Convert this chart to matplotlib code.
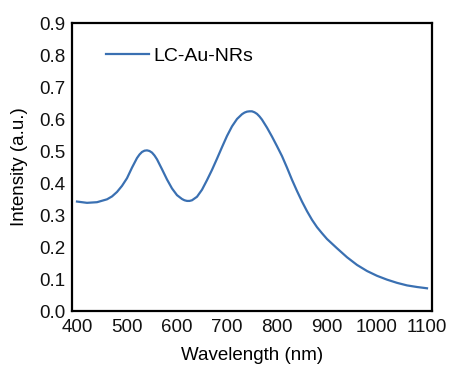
import matplotlib
matplotlib.use("Agg")
import matplotlib.pyplot as plt

plt.rcParams['font.family'] = ['Liberation Sans', 'DejaVu Sans']

wavelength = [400, 420, 440, 460, 470, 480, 490, 500, 510, 520, 525, 530, 535, 540, 545,
              550, 555, 560, 570, 580, 590, 600, 610, 615, 620, 625, 630, 640, 650, 660,
              670, 680, 690, 700, 710, 720, 730, 735, 740, 745, 750, 755, 760, 765, 770,
              780, 790, 800, 810, 820, 830, 840, 850, 860, 870, 880, 890, 900, 920, 940,
              960, 980, 1000, 1020, 1040, 1060, 1080, 1100]
intensity = [0.342, 0.338, 0.340, 0.349, 0.358, 0.372, 0.391, 0.415, 0.448, 0.478, 0.489,
             0.497, 0.501, 0.502, 0.500, 0.495, 0.486, 0.474, 0.443, 0.411, 0.383, 0.362,
             0.350, 0.346, 0.344, 0.344, 0.346, 0.357, 0.379, 0.409, 0.441, 0.476, 0.512,
             0.547, 0.577, 0.600, 0.615, 0.620, 0.623, 0.624, 0.624, 0.621, 0.616, 0.608,
             0.598, 0.573, 0.545, 0.515, 0.484, 0.448, 0.410, 0.375, 0.342, 0.312, 0.285,
             0.262, 0.243, 0.225, 0.196, 0.168, 0.144, 0.125, 0.110, 0.098, 0.088, 0.080,
             0.075, 0.071]
series_label = "LC-Au-NRs"
xticks = [400, 500, 600, 700, 800, 900, 1000, 1100]
yticks = [0.0, 0.1, 0.2, 0.3, 0.4, 0.5, 0.6, 0.7, 0.8, 0.9]

fig = plt.figure(figsize=(4.56, 3.79), dpi=100)
ax = fig.add_axes([72/456, 68/379, 360/456, 288/379])
ax.plot(wavelength, intensity, color='#3a70b2', lw=1.6, label=series_label)
ax.set_xlim(390, 1110)
ax.set_ylim(0, 0.9)
ax.set_xticks(xticks)
ax.set_xticklabels([str(t) for t in xticks])
ax.set_yticks(yticks)
ax.set_yticklabels([f"{t:.1f}" for t in yticks])
ax.tick_params(length=0, labelsize=13.5, colors='#111111')
ax.tick_params(axis='x', pad=6)
ax.tick_params(axis='y', pad=5)
for s in ax.spines.values():
    s.set_linewidth(1.6)
    s.set_color('black')
ax.set_xlabel("Wavelength (nm)", fontsize=13.5, labelpad=8)
ax.set_ylabel("Intensity (a.u.)", fontsize=13.5, labelpad=8)
ax.legend(loc='center left', bbox_to_anchor=(0.094, 0.885), frameon=False,
          fontsize=14, handlelength=2.2, handletextpad=0.25, borderpad=0, borderaxespad=0)
fig.savefig("out.png", dpi=100)
